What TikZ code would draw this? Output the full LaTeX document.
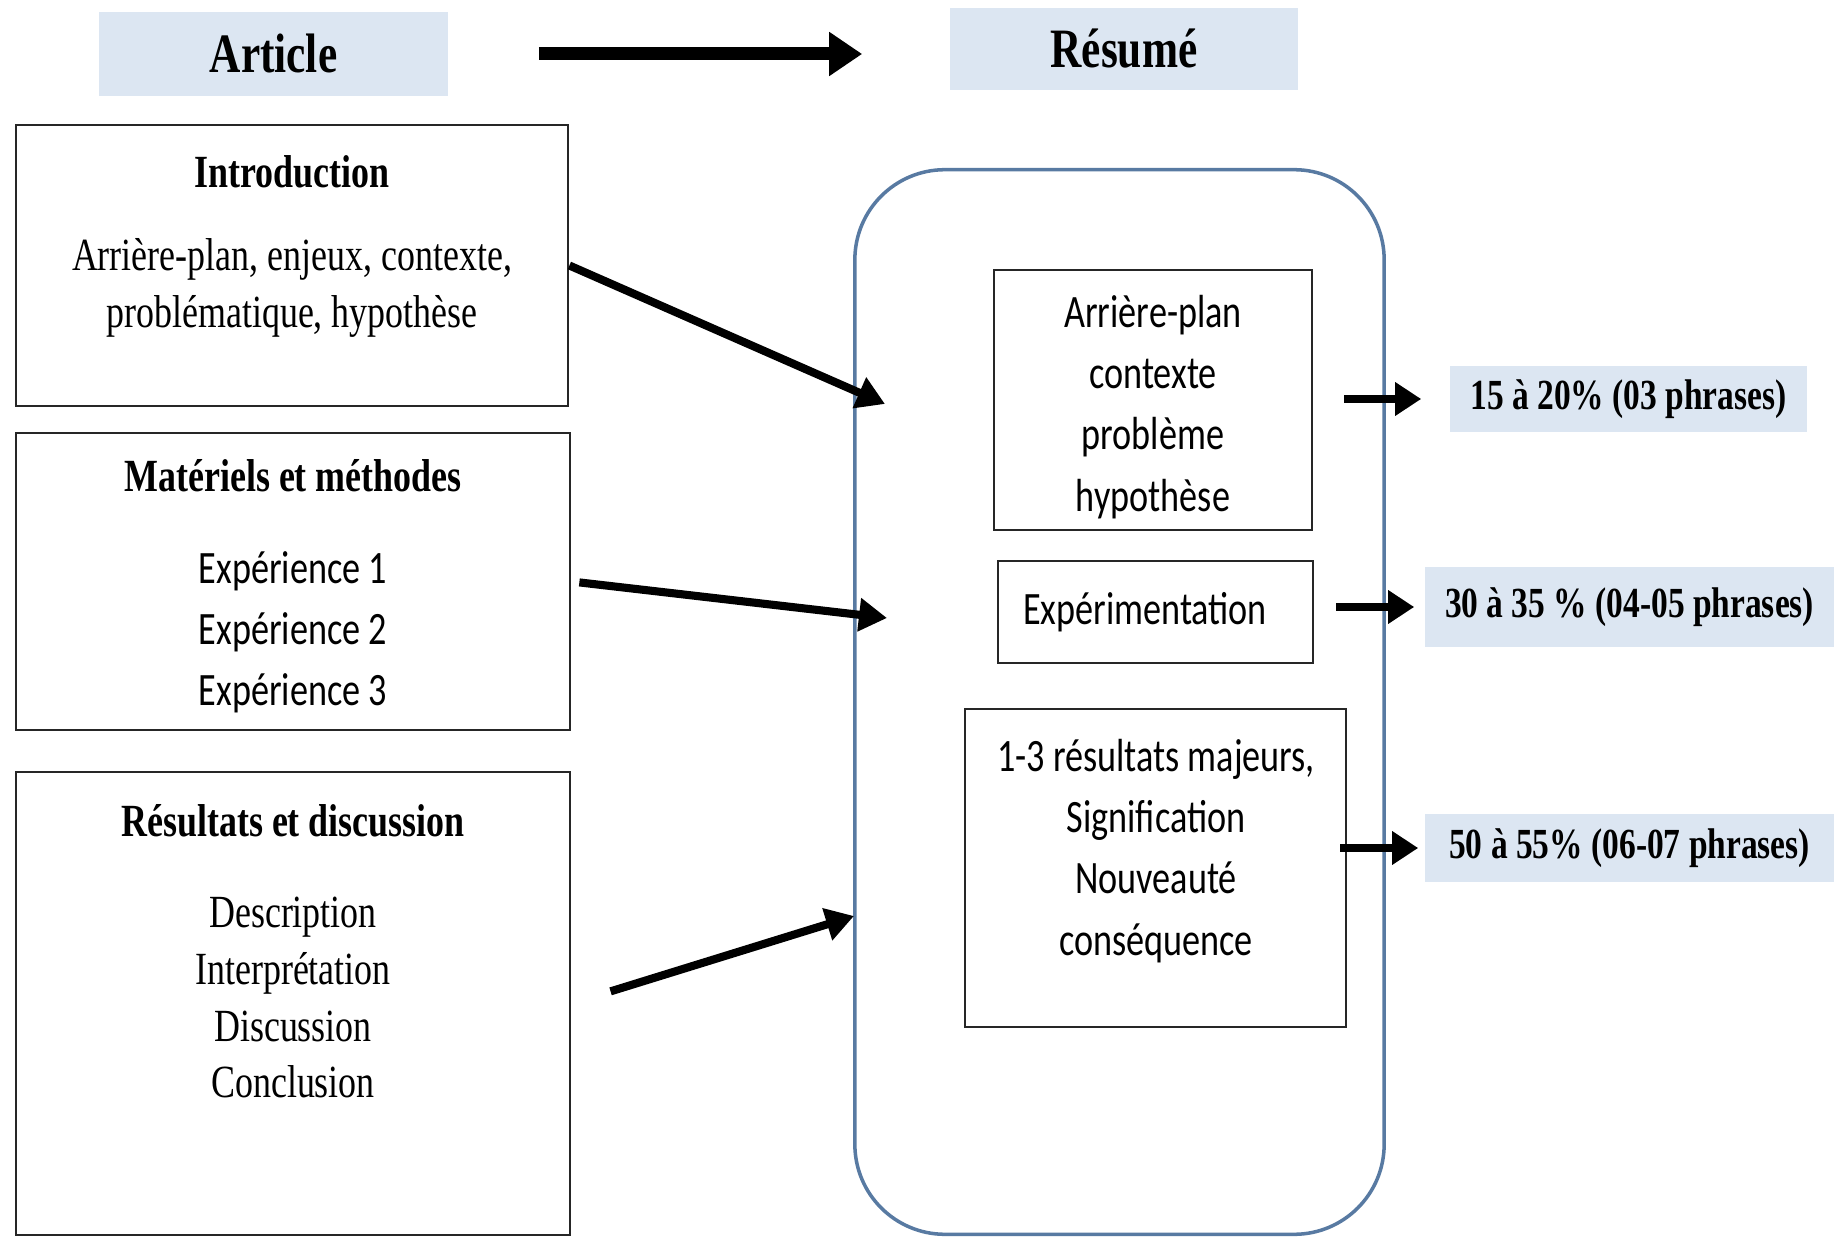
\documentclass[tikz,border=0pt]{standalone}
\usepackage{fontspec}
\newfontfamily\tnr{Liberation Serif}[FakeStretch=0.78]
\newfontfamily\calib{Carlito}[FakeStretch=0.78]
\usetikzlibrary{arrows.meta}
\definecolor{paleblue}{RGB}{220,230,242}
\definecolor{edgeblue}{RGB}{88,122,162}

\begin{document}
\begin{tikzpicture}[x=0.01cm,y=-0.01cm,frame/.style={draw=black!85, line width=0.7pt, inner sep=0pt},title/.style={fill=paleblue, font=\tnr\bfseries\fontsize{15.8}{18}\selectfont},head/.style={font=\tnr\bfseries\fontsize{13.1}{16}\selectfont},body/.style={align=center, font=\tnr\fontsize{13.1}{16.2}\selectfont},cbody/.style={align=center, font=\calib\fontsize{13.2}{17.4}\selectfont},tag/.style={fill=paleblue, font=\tnr\bfseries\fontsize{12.2}{14}\selectfont},link/.style={line width=2.3pt, -{Triangle[length=0.28cm, width=0.32cm]}},pointer/.style={line width=2.2pt, -{Triangle[length=0.26cm, width=0.32cm]}}]
\useasboundingbox (0,0) rectangle (1834,1237);
% titles
\node[title, minimum width=3.49cm, minimum height=0.84cm] (art) at (273.5,54) {Article};
\node[title, minimum width=3.48cm, minimum height=0.82cm] (res) at (1124,49) {Résumé};
\draw[line width=3.7pt, -{Triangle[length=0.33cm, width=0.42cm]}, shorten <=0.9cm, shorten >=0.87cm] (art.east) -- (art.east -| res.west);
% article
\node[frame, minimum width=5.52cm, minimum height=2.81cm] (intro) at (292,265.5) {};
\node[head] (introhd) at (292,172) {Introduction}; \node[body] (introtx) at (292,288) {Arrière-plan, enjeux, contexte,\\problématique, hypothèse};
\node[frame, minimum width=5.54cm, minimum height=2.97cm] (meth) at (293,581.5) {};
\node[head] (methhd) at (293,476) {Matériels et méthodes}; \node[cbody] (methtx) at (293,632) {Expérience 1\\Expérience 2\\Expérience 3};
\node[frame, minimum width=5.54cm, minimum height=4.63cm] (resu) at (293,1003.5) {};
\node[head] (resuhd) at (293,821) {Résultats et discussion}; \node[body] (resutx) at (293,997.5) {Description\\Interprétation\\Discussion\\Conclusion};
% abstract
\node[draw=edgeblue, line width=1pt, rounded corners=0.9cm, minimum width=5.29cm, minimum height=10.64cm] (abs) at (1119.5,702) {};
\node[frame, minimum width=3.18cm, minimum height=2.6cm] (bg) at (1153,400) {};
\node[cbody] (bgtx) at (1153,407) {Arrière-plan\\contexte\\problème\\hypothèse};
\node[frame, minimum width=3.15cm, minimum height=1.02cm] (exp) at (1155.5,612) {};
\node[cbody] (exptx) at (1145,612) {Expérimentation};
\node[frame, minimum width=3.81cm, minimum height=3.18cm] (find) at (1155.5,868) {};
\node[cbody] (findtx) at (1156,851) {1-3 résultats majeurs,\\Signification\\Nouveauté\\conséquence};
% shares
\node[tag, minimum width=3.57cm, minimum height=0.65cm] (tag1) at (1628.5,399) {15 à 20\% (03 phrases)};
\node[tag, minimum width=4.09cm, minimum height=0.79cm] (tag2) at (1629.5,607) {30 à 35 \% (04-05 phrases)};
\node[tag, minimum width=4.09cm, minimum height=0.67cm] (tag3) at (1629.5,848) {50 à 55\% (06-07 phrases)};
% arrows
\coordinate (in1) at (885,404); \coordinate (in2) at (887,618); \coordinate (in3) at (854,916);
\draw[link] (intro.east) -- (in1);
\draw[link, shorten <=0.08cm] (meth.east) -- (in2);
\draw[link, shorten <=0.41cm] (resu.east) -- (in3);
\draw[pointer, shorten <=0.31cm, shorten >=0.28cm] (bg.east |- tag1.west) -- (tag1.west);
\draw[pointer, shorten <=0.22cm, shorten >=0.1cm] (exp.east |- tag2.west) -- (tag2.west);
\draw[pointer, shorten >=0.06cm] ([xshift=-0.07cm]find.east |- tag3.west) -- (tag3.west);
\end{tikzpicture}
\end{document}
